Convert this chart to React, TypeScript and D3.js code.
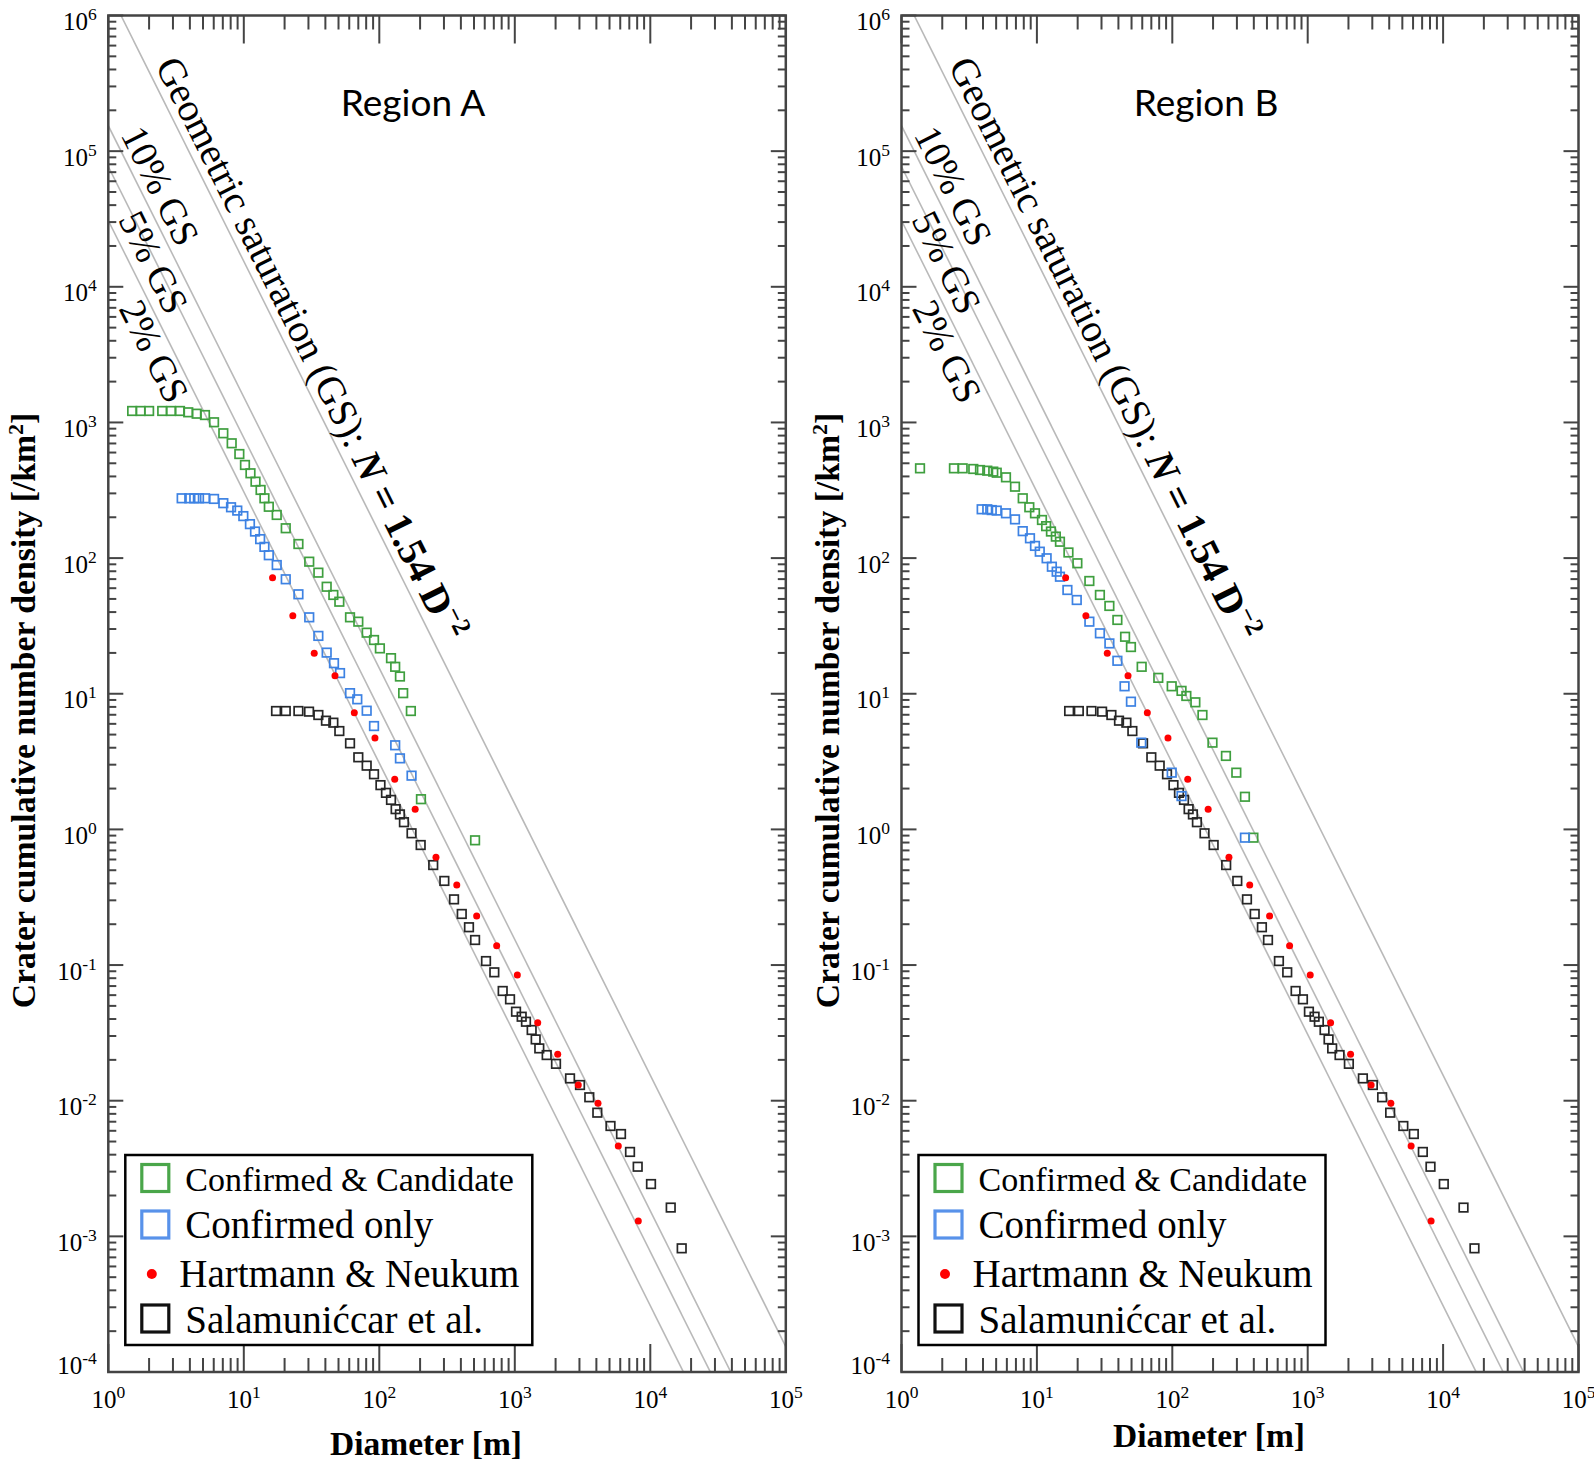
import React from 'react';
import * as d3 from 'd3';

// ---------------- data ----------------
const GS_COEF = 1.54; // N = 1.54 D^-2  (D in km, N per km^2)
const GS_LEVELS = [1, 0.1, 0.05, 0.02];
const GS_LEVEL_LABELS = ['', '10% GS', '5% GS', '2% GS'];

const xTickValues = [1, 10, 100, 1e3, 1e4, 1e5];
const xTickExps = ['0', '1', '2', '3', '4', '5'];
const yTickValues = [1e-4, 1e-3, 1e-2, 1e-1, 1, 10, 100, 1e3, 1e4, 1e5, 1e6];
const yTickExps = ['-4', '-3', '-2', '-1', '0', '1', '2', '3', '4', '5', '6'];

const regionTitles = ['Region A', 'Region B'];
const legendLabels = ['Confirmed & Candidate', 'Confirmed only', 'Hartmann & Neukum', 'Salamunićcar et al.'];
const xAxisTitle = 'Diameter [m]';

// Region A: confirmed & candidate
const greenA_D = [1.50, 1.73, 2.00, 2.50, 2.90, 3.38, 3.89, 4.49, 5.17, 6.03, 7.06, 8.14, 9.27, 10.2, 11.2, 12.2, 13.3, 14.2, 15.3, 17.5, 20.4, 25.3, 30.4, 35.5, 40.9, 45.8, 50.7, 60.8, 70.0, 80.7, 91.4, 101, 122, 131, 142, 150, 171, 203, 509];
const greenA_N = [1215, 1215, 1215, 1215, 1215, 1215, 1188, 1160, 1134, 1003, 832, 702, 585, 486, 422, 366, 318, 276, 239, 208, 166, 127, 94.1, 78.1, 61.5, 53.5, 47.7, 36.6, 34.0, 28.2, 24.9, 21.6, 18.3, 15.8, 13.4, 10.1, 7.46, 1.67, 0.831];
// Region A: confirmed only
const blueA_D = [3.48, 3.96, 4.31, 4.67, 5.17, 6.03, 7.06, 8.05, 8.95, 9.92, 11.1, 12.1, 13.2, 14.2, 15.3, 17.5, 20.4, 25.3, 30.4, 35.5, 40.9, 46.3, 51.3, 60.8, 68.8, 80.7, 91.4, 131, 142, 173];
const blueA_N = [276, 276, 276, 276, 276, 273, 254, 237, 224, 204, 178, 157, 138, 121, 105, 88.9, 69.8, 54.1, 36.6, 26.7, 20.1, 16.8, 14.2, 10.1, 9.1, 7.5, 5.78, 4.17, 3.34, 2.49];
// Region B: confirmed & candidate
const greenB_D = [1.37, 2.44, 2.83, 3.39, 3.80, 4.30, 4.76, 5.05, 5.91, 6.89, 7.86, 8.79, 9.68, 10.9, 11.7, 12.7, 13.8, 14.8, 17.1, 19.9, 24.4, 29.2, 34.3, 39.3, 44.8, 49.5, 59.4, 78.8, 99.0, 117, 127, 148, 167, 198, 249, 297, 344, 397];
const greenB_N = [459, 459, 459, 454, 446, 441, 434, 426, 394, 336, 276, 237, 214, 191, 172, 157, 144, 132, 110, 91.6, 67.8, 53.5, 44.4, 35.0, 26.3, 22.1, 15.8, 13.1, 11.35, 10.5, 9.63, 8.65, 6.97, 4.36, 3.48, 2.62, 1.74, 0.869];
// Region B: confirmed only
const blueB_D = [3.91, 4.30, 4.64, 5.05, 5.91, 6.89, 7.86, 8.89, 9.68, 10.5, 11.8, 12.9, 14.0, 14.8, 16.8, 19.7, 24.4, 29.2, 34.3, 39.3, 44.4, 49.5, 59.0, 99.0, 117, 344];
const blueB_N = [229, 229, 226, 224, 214, 193, 158, 140, 123, 111.5, 99.7, 86.4, 79.4, 72.9, 58.2, 49.1, 34.0, 27.9, 23.5, 17.5, 11.35, 8.74, 4.36, 2.62, 1.76, 0.869];
// Hartmann & Neukum (both panels)
const red_D = [16.3, 23.0, 33.1, 47.1, 65.4, 92.9, 130, 184, 262, 373, 523, 735, 1044, 1476, 2073, 2941, 4111, 5805, 8155];
const red_N = [71.7, 37.6, 19.9, 13.6, 7.25, 4.72, 2.34, 1.41, 0.623, 0.389, 0.23, 0.139, 0.0845, 0.0376, 0.022, 0.01305, 0.00957, 0.00463, 0.0013];
// Salamunićcar et al. (both panels)
const black_D = [17.3, 20.4, 25.3, 30.3, 35.5, 40.4, 45.8, 50.7, 60.8, 70.0, 80.7, 91.4, 102, 112, 122, 132, 142, 152, 173, 202, 250, 302, 356, 406, 459, 509, 613, 706, 814, 922, 1021, 1124, 1209, 1332, 1426, 1516, 1719, 2014, 2556, 3028, 3546, 4064, 5085, 6077, 7084, 8072, 10120, 14150, 17050];
const black_N = [7.46, 7.46, 7.46, 7.38, 6.97, 6.33, 6.12, 5.31, 4.31, 3.40, 2.95, 2.55, 2.12, 1.86, 1.65, 1.41, 1.29, 1.13, 0.936, 0.767, 0.546, 0.417, 0.305, 0.238, 0.19, 0.153, 0.107, 0.0884, 0.0644, 0.0559, 0.0453, 0.0416, 0.0382, 0.0332, 0.0283, 0.0243, 0.0217, 0.0187, 0.0146, 0.01305, 0.0106, 0.00816, 0.00651, 0.00568, 0.00419, 0.00326, 0.00243, 0.00163, 0.000816];

// ---------------- styling ----------------
const SERIF = "'Liberation Serif', 'Times New Roman', serif";
const SANS = "Lato, 'Open Sans', sans-serif";
const TOP = 15.5;
const BOTTOM = 1372;
const AXIS = '#444';
const GREEN = '#3f9f3f';
const BLUE = '#3d82e3';
const BLACK = '#262626';
const RED = '#ff0000';
const LINE = '#b9b9b9';
const MARK = 8.6;

type PanelProps = {
  idx: number;
  left: number;
  right: number;
  greenD: number[]; greenN: number[];
  blueD: number[]; blueN: number[];
  xTitleX: number; xTitleY: number;
  yTitleX: number;
};

function Squares({ D, N, x, y, color }: any) {
  return (
    <g>
      {D.map((d: number, i: number) => (
        <rect key={i} x={x(d) - MARK / 2} y={y(N[i]) - MARK / 2} width={MARK} height={MARK}
          fill="none" stroke={color} strokeWidth={1.7} />
      ))}
    </g>
  );
}

function Panel(p: PanelProps) {
  const x = d3.scaleLog().domain([1, 1e5]).range([p.left, p.right]);
  const y = d3.scaleLog().domain([1e-4, 1e6]).range([BOTTOM, TOP]);
  const clipId = `clip${p.idx}`;
  const angle = Math.atan2(y(1e-2) - y(1), x(1e4) - x(1e3)) * 180 / Math.PI;

  const xMinor: number[] = [];
  for (let k = 0; k < 5; k++) for (let m = 2; m <= 9; m++) xMinor.push(m * Math.pow(10, k));
  const yMinor: number[] = [];
  for (let k = -4; k < 6; k++) for (let m = 2; m <= 9; m++) yMinor.push(m * Math.pow(10, k));

  const gsLine = (f: number) => {
    const gen = d3.line<number>().x(d => x(d)).y(d => y(GS_COEF * f * Math.pow(d / 1000, -2)));
    return gen([1, 1e5]) as string;
  };

  // label baseline-start offsets (px) relative to panel's top-left corner
  const labelOffsets = [
    { dx: 46.5, dy: 50.0 },
    { dx: 12.0, dy: 119.0 },
    { dx: 9.5, dy: 204.0 },
    { dx: 10.0, dy: 293.0 },
  ];

  const L = p.left + 17;
  const LT = 1155;

  return (
    <g>
      <defs>
        <clipPath id={clipId}>
          <rect x={p.left} y={TOP} width={p.right - p.left} height={BOTTOM - TOP} />
        </clipPath>
      </defs>
      {/* saturation lines */}
      <g clipPath={`url(#${clipId})`}>
        {GS_LEVELS.map((f, i) => (
          <path key={i} d={gsLine(f)} fill="none" stroke={LINE} strokeWidth={1.6} />
        ))}
      </g>
      {/* rotated labels */}
      <text transform={`translate(${p.left + labelOffsets[0].dx},${TOP + labelOffsets[0].dy}) rotate(${angle})`}
        fontFamily={SERIF} fontSize={39.5} fill="#000">
        <tspan>Geometric saturation (GS): </tspan>
        <tspan fontWeight="bold" fontStyle="italic">N</tspan>
        <tspan fontWeight="bold"> = 1.54 D</tspan>
        <tspan fontWeight="bold" fontSize={26} dy={-15}>−2</tspan>
      </text>
      {GS_LEVEL_LABELS.map((lab, i) => i === 0 ? null : (
        <text key={i} transform={`translate(${p.left + labelOffsets[i].dx},${TOP + labelOffsets[i].dy}) rotate(${angle})`}
          fontFamily={SERIF} fontSize={38} fill="#000">{lab}</text>
      ))}
      {/* title */}
      <text x={(p.left + p.right) / 2 - 34} y={116} textAnchor="middle" fontFamily={SANS} fontSize={37} fill="#000">
        {regionTitles[p.idx]}
      </text>
      {/* data */}
      <Squares D={black_D} N={black_N} x={x} y={y} color={BLACK} />
      <Squares D={p.greenD} N={p.greenN} x={x} y={y} color={GREEN} />
      <Squares D={p.blueD} N={p.blueN} x={x} y={y} color={BLUE} />
      <g>
        {red_D.map((d, i) => (
          <circle key={i} cx={x(d)} cy={y(red_N[i])} r={3.5} fill={RED} />
        ))}
      </g>
      {/* ticks */}
      <g stroke={AXIS} strokeWidth={2}>
        {xTickValues.map((v, i) => (
          <g key={'xm' + i}>
            <line x1={x(v)} x2={x(v)} y1={BOTTOM} y2={BOTTOM - 28} />
            <line x1={x(v)} x2={x(v)} y1={TOP} y2={TOP + 28} />
          </g>
        ))}
        {xMinor.map((v, i) => (
          <g key={'xn' + i}>
            <line x1={x(v)} x2={x(v)} y1={BOTTOM} y2={BOTTOM - 14} />
            <line x1={x(v)} x2={x(v)} y1={TOP} y2={TOP + 14} />
          </g>
        ))}
        {yTickValues.map((v, i) => (
          <g key={'ym' + i}>
            <line x1={p.left} x2={p.left + 15} y1={y(v)} y2={y(v)} />
            <line x1={p.right} x2={p.right - 15} y1={y(v)} y2={y(v)} />
          </g>
        ))}
        {yMinor.map((v, i) => (
          <g key={'yn' + i}>
            <line x1={p.left} x2={p.left + 8} y1={y(v)} y2={y(v)} />
            <line x1={p.right} x2={p.right - 8} y1={y(v)} y2={y(v)} />
          </g>
        ))}
      </g>
      <rect x={p.left} y={TOP} width={p.right - p.left} height={BOTTOM - TOP} fill="none" stroke={AXIS} strokeWidth={2.5} />
      {/* tick labels */}
      {xTickValues.map((v, i) => (
        <text key={'xl' + i} x={x(v)} y={1408} textAnchor="middle" fontFamily={SERIF} fontSize={25} fill="#000">
          10<tspan fontSize={17.5} dy={-10}>{xTickExps[i]}</tspan>
        </text>
      ))}
      {yTickValues.map((v, i) => (
        <text key={'yl' + i} x={p.left - 11.5} y={y(v) + (i === 0 ? 2 : 14.5)} textAnchor="end" fontFamily={SERIF} fontSize={25} fill="#000">
          10<tspan fontSize={17.5} dy={-10}>{yTickExps[i]}</tspan>
        </text>
      ))}
      {/* axis titles */}
      <text x={p.xTitleX} y={p.xTitleY} textAnchor="middle" fontFamily={SERIF} fontWeight="bold" fontSize={33.5} fill="#000">
        {xAxisTitle}
      </text>
      <text transform={`translate(${p.yTitleX},710.5) rotate(-90)`} textAnchor="middle" fontFamily={SERIF} fontWeight="bold" fontSize={33.7} fill="#000">
        Crater cumulative number density [/km<tspan fontSize={22} dy={-12}>2</tspan><tspan dy={12}>]</tspan>
      </text>
      {/* legend */}
      <rect x={L} y={LT} width={407} height={190} fill="#fff" stroke="#000" strokeWidth={2.5} />
      <rect x={L + 16.5} y={1164.5} width={27} height={27} fill="none" stroke="#4aa64a" strokeWidth={3.2} />
      <rect x={L + 16.5} y={1211} width={27} height={27} fill="none" stroke="#5892ea" strokeWidth={3.2} />
      <circle cx={L + 26.5} cy={1274} r={5} fill={RED} />
      <rect x={L + 16.5} y={1305} width={27} height={27} fill="none" stroke="#111" strokeWidth={3.2} />
      <text x={L + 60} y={1191} fontFamily={SERIF} fontSize={34} fill="#000">{legendLabels[0]}</text>
      <text x={L + 60} y={1238} fontFamily={SERIF} fontSize={39} fill="#000">{legendLabels[1]}</text>
      <text x={L + 54} y={1287} fontFamily={SERIF} fontSize={39} fill="#000">{legendLabels[2]}</text>
      <text x={L + 60} y={1333} fontFamily={SERIF} fontSize={39} fill="#000">{legendLabels[3]}</text>
    </g>
  );
}

export default function App() {
  return (
    <svg width={1594} height={1466} style={{ position: 'absolute', left: 0, top: 0, background: '#fff' }}>
      <rect x={0} y={0} width={1594} height={1466} fill="#fff" />
      <Panel idx={0} left={108.3} right={785.8} greenD={greenA_D} greenN={greenA_N} blueD={blueA_D} blueN={blueA_N}
        xTitleX={426} xTitleY={1455} yTitleX={35} />
      <Panel idx={1} left={901.5} right={1578.5} greenD={greenB_D} greenN={greenB_N} blueD={blueB_D} blueN={blueB_N}
        xTitleX={1209} xTitleY={1447} yTitleX={839} />
    </svg>
  );
}
